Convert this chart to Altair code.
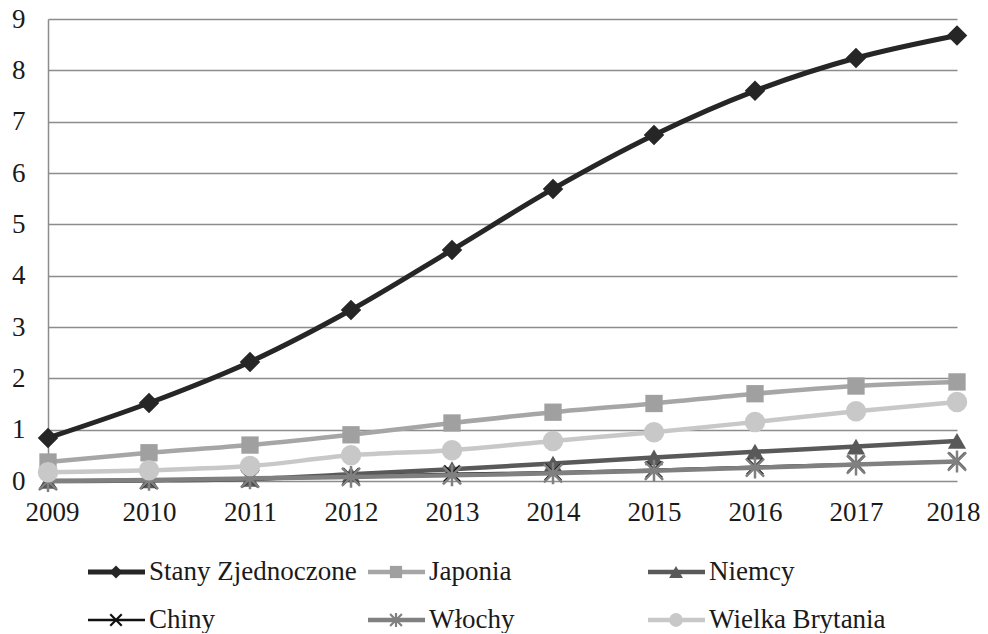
import altair as alt
import pandas as pd

years = [2009, 2010, 2011, 2012, 2013, 2014, 2015, 2016, 2017, 2018]
names = ["Stany Zjednoczone", "Japonia", "Niemcy", "Chiny", "Włochy", "Wielka Brytania"]
usa = [0.84, 1.52, 2.32, 3.33, 4.50, 5.69, 6.74, 7.60, 8.24, 8.68]
japan = [0.37, 0.55, 0.70, 0.90, 1.13, 1.34, 1.51, 1.70, 1.85, 1.93]
germany = [0.00, 0.01, 0.04, 0.13, 0.23, 0.34, 0.46, 0.57, 0.67, 0.78]
china = [0.00, 0.01, 0.04, 0.09, 0.14, 0.17, 0.22, 0.28, 0.33, 0.39]
italy = [0.00, 0.02, 0.05, 0.08, 0.11, 0.15, 0.20, 0.26, 0.32, 0.38]
uk = [0.17, 0.21, 0.29, 0.50, 0.60, 0.78, 0.95, 1.15, 1.36, 1.54]
values = [usa, japan, germany, china, italy, uk]
legend_col = [0, 1, 2, 0, 1, 2]
legend_row = [0, 0, 0, 1, 1, 1]

styles = [
    dict(color="#262626", mcolor="#262626", width=5, shape="diamond", size=420, lsize=170, filled=True),
    dict(color="#a6a6a6", mcolor="#a0a0a0", width=4.5, shape="square", size=300, lsize=150, filled=True),
    dict(color="#595959", mcolor="#595959", width=4.5, shape="triangle-up", size=330, lsize=190, filled=True),
    dict(color="#111111", mcolor="#111111", width=2.5, shape="M-1,-1L1,1M-1,1L1,-1", size=260, lsize=130, filled=False),
    dict(color="#808080", mcolor="#808080", width=4.5, shape="M-1,-1L1,1M-1,1L1,-1M0,-1.2L0,1.2", size=330, lsize=140, filled=False),
    dict(color="#c8c8c8", mcolor="#c8c8c8", width=4.5, shape="circle", size=420, lsize=190, filled=True),
]

FONT = "Liberation Serif, Times New Roman, DejaVu Serif, serif"
FS = 27
W, H = 909, 462

xscale = alt.Scale(domain=[2009, 2018], nice=False, zero=False)
yscale = alt.Scale(domain=[0, 9], nice=False)

layers = []
base_df = pd.DataFrame({"year": years, "v": usa})
axis_layer = alt.Chart(base_df).mark_line(opacity=0).encode(
    x=alt.X("year:Q", scale=xscale,
            axis=alt.Axis(values=years, format="d", title=None, grid=False, domain=False, ticks=False,
                          labelFlush=True, labelFlushOffset=23, labelOverlap=False,
                          labelPadding=18, labelFontSize=FS, labelFont=FONT, labelColor="#1a1a1a")),
    y=alt.Y("v:Q", scale=yscale,
            axis=alt.Axis(values=list(range(10)), title=None, grid=True, gridColor="#8c8c8c", gridWidth=1.5,
                          domain=True, domainColor="#8c8c8c", domainWidth=1.5, ticks=False,
                          labelFlush=False,
                          labelPadding=23, labelFontSize=FS, labelFont=FONT, labelColor="#1a1a1a")),
)
layers.append(axis_layer)

draw_order = [1, 2, 3, 4, 5, 0]
for i in draw_order:
    st = styles[i]
    df = pd.DataFrame({"year": years, "v": values[i]})
    ln = alt.Chart(df).mark_line(color=st["color"], strokeWidth=st["width"], interpolate="monotone").encode(
        x=alt.X("year:Q", scale=xscale), y=alt.Y("v:Q", scale=yscale))
    if st["filled"]:
        pt = alt.Chart(df).mark_point(shape=st["shape"], size=st["size"], filled=True, color=st["mcolor"], opacity=1)
    else:
        pt = alt.Chart(df).mark_point(shape=st["shape"], size=st["size"], filled=False, color=st["mcolor"],
                                      strokeWidth=2.5, opacity=1)
    pt = pt.encode(x=alt.X("year:Q", scale=xscale), y=alt.Y("v:Q", scale=yscale))
    layers += [ln, pt]

main = alt.layer(*layers).properties(width=W, height=H)

leg_layers = []
lx = alt.Scale(domain=[0, W], nice=False, zero=False)
ly = alt.Scale(domain=[0, 1], reverse=True, nice=False)
for i, name in enumerate(names):
    st = styles[i]
    ldf = pd.DataFrame({"name": [name], "col": [legend_col[i]], "row": [legend_row[i]]})
    base = alt.Chart(ldf).transform_calculate(
        x0="datum.col * 280 + 40", x1="datum.col * 280 + 97",
        xm="datum.col * 280 + 68", xt="datum.col * 280 + 101")
    rule = base.mark_rule(color=st["color"], strokeWidth=st["width"]).encode(
        x=alt.X("x0:Q", scale=lx, axis=None), x2="x1:Q", y=alt.Y("row:Q", scale=ly, axis=None))
    if st["filled"]:
        pm = base.mark_point(shape=st["shape"], size=st["lsize"], filled=True, color=st["mcolor"], opacity=1)
    else:
        pm = base.mark_point(shape=st["shape"], size=st["lsize"], filled=False, color=st["mcolor"],
                             strokeWidth=2.2, opacity=1)
    pm = pm.encode(x=alt.X("xm:Q", scale=lx, axis=None), y=alt.Y("row:Q", scale=ly, axis=None))
    tx = base.mark_text(align="left", baseline="middle", font=FONT, fontSize=FS, color="#1a1a1a").encode(
        x=alt.X("xt:Q", scale=lx, axis=None), y=alt.Y("row:Q", scale=ly, axis=None), text="name:N")
    leg_layers += [rule, pm, tx]

legend = alt.layer(*leg_layers).properties(width=W, height=48)

chart = alt.vconcat(main, legend, spacing=91, bounds="flush").configure(
    padding={"left": 3, "top": -3, "right": 0, "bottom": 0}, background="white"
).configure_view(stroke=None)

chart.save("out.html", embed_options={"renderer": "svg", "actions": False})
